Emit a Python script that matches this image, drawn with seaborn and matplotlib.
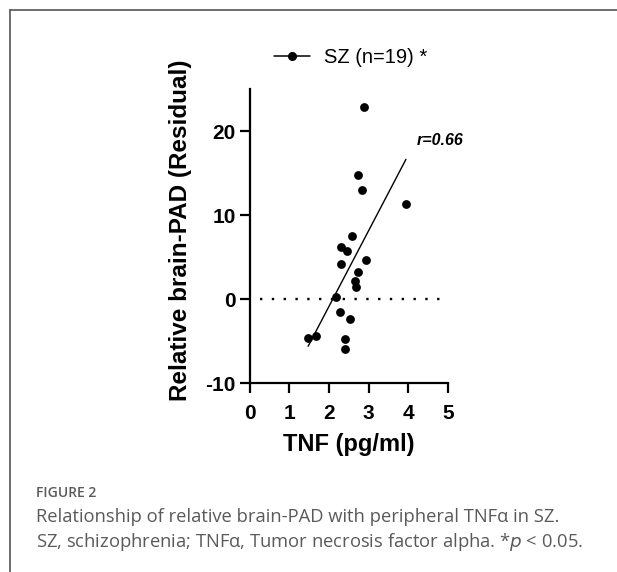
import numpy as np
import pandas as pd
import seaborn as sns
import matplotlib.pyplot as plt
from matplotlib.lines import Line2D

# TNF (pg/ml) vs relative brain-PAD residual, SZ group
tnf = [2.89, 2.72, 2.83, 3.94, 2.59, 2.30, 2.45, 2.30, 2.93, 2.73,
       2.66, 2.68, 2.17, 2.27, 2.54, 1.47, 1.66, 2.41, 2.41]
brain_pad = [22.9, 14.8, 13.0, 11.3, 7.5, 6.2, 5.7, 4.2, 4.7, 3.2,
             2.2, 1.4, 0.2, -1.6, -2.4, -4.7, -4.4, -4.8, -5.9]
x_ticks = [0, 1, 2, 3, 4, 5]
y_ticks = [-10, 0, 10, 20]
legend_label = "SZ (n=19) *"
r_label = "r=0.66"

df = pd.DataFrame({"tnf": tnf, "pad": brain_pad})

sns.set_style("ticks", {"axes.edgecolor": "black", "text.color": "black",
                        "axes.labelcolor": "black", "xtick.color": "black",
                        "ytick.color": "black"})
plt.rcParams["font.family"] = ["Liberation Sans", "DejaVu Sans"]
plt.rcParams["axes.unicode_minus"] = False

fig = plt.figure(figsize=(6.17, 5.72), dpi=100)
ax = fig.add_axes([0.405, 0.3304, 0.321, 0.514])

sns.regplot(data=df, x="tnf", y="pad", ax=ax, ci=None, color="black",
            scatter_kws={"s": 40, "linewidths": 0, "alpha": 1},
            line_kws={"linewidth": 1.0})

ax.axhline(0, xmin=0.05, xmax=1.0, color="black", linestyle=(0, (1, 4)),
           linewidth=1.7)

ax.set_xlim(0, 5)
ax.set_ylim(-10, 25)
ax.set_xticks(x_ticks)
ax.set_yticks(y_ticks)
ax.tick_params(axis="both", length=7, width=1.6, labelsize=15, colors="black")
ax.tick_params(axis="x", pad=8)
ax.tick_params(axis="y", pad=3)
for lab in ax.get_xticklabels() + ax.get_yticklabels():
    lab.set_fontweight("bold")
for side in ["top", "right"]:
    ax.spines[side].set_visible(False)
for side in ["left", "bottom"]:
    ax.spines[side].set_linewidth(1.6)
    ax.spines[side].set_color("black")

ax.set_xlabel("TNF (pg/ml)", fontsize=17, fontweight="bold", labelpad=7,
              color="black")
ax.set_ylabel("Relative brain-PAD (Residual)", fontsize=17.5, fontweight="bold",
              color="black")
ax.yaxis.set_label_coords(-0.293, 0.52)

ax.text(5.39, 18.9, r_label, fontsize=11.5, fontweight="bold", style="italic",
        ha="right", va="center", color="black")

handle = Line2D([0], [0], color="black", marker="o", markersize=5.5, linewidth=1.1)
leg = ax.legend([handle], [legend_label], loc="center left", frameon=False,
                bbox_to_anchor=(0.03, 1.108), fontsize=14.5, handlelength=1.8,
                handletextpad=0.7)
for t in leg.get_texts():
    t.set_color("black")

# page frame (left and top edges)
fig.add_artist(Line2D([10 / 617, 10 / 617], [0, 1 - 10 / 572],
                      transform=fig.transFigure, color="#555555", linewidth=1.2))
fig.add_artist(Line2D([10 / 617, 1], [1 - 10 / 572, 1 - 10 / 572],
                      transform=fig.transFigure, color="#555555", linewidth=1.2))

cap_font = ["Open Sans", "DejaVu Sans"]
fig.text(36 / 617, 1 - 497 / 572, "FIGURE 2", fontsize=10, color="#5a5a5a",
         family=cap_font, fontweight="semibold", va="baseline")
fig.text(36 / 617, 1 - 522 / 572,
         "Relationship of relative brain-PAD with peripheral TNF\u03b1 in SZ.",
         fontsize=13.2, color="#5a5a5a", family=cap_font, va="baseline")
fig.text(36 / 617, 1 - 547 / 572,
         "SZ, schizophrenia; TNF\u03b1, Tumor necrosis factor alpha. *$p$ < 0.05.",
         fontsize=13.2, color="#5a5a5a", family=cap_font, va="baseline")

plt.savefig("out.png", dpi=100)
